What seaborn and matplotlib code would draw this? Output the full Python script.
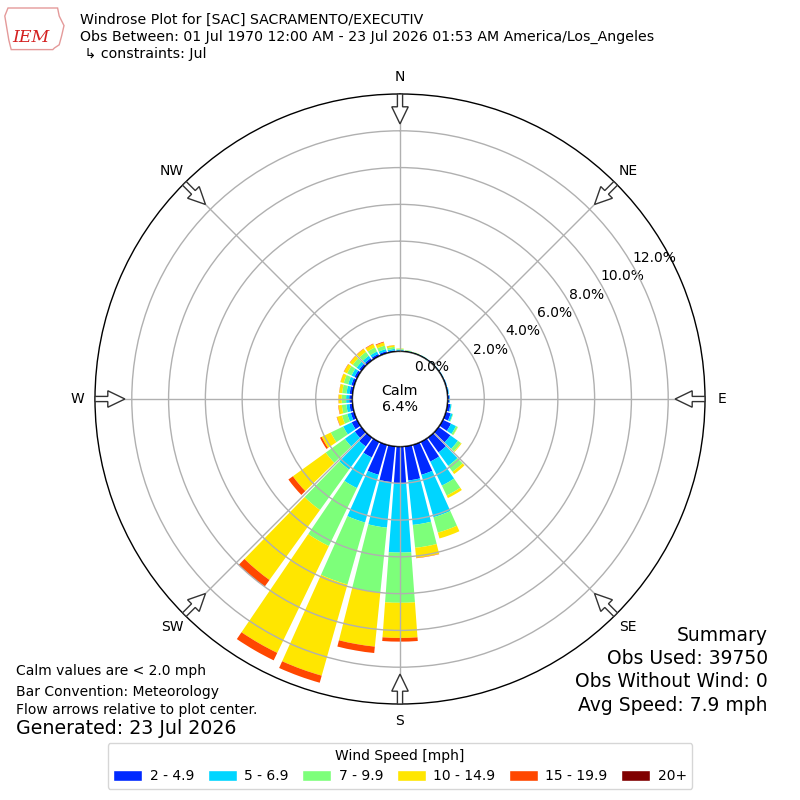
import numpy as np
import matplotlib
matplotlib.use("Agg")
import matplotlib.pyplot as plt
import seaborn as sns
from matplotlib.patches import Circle, FancyArrow, Patch, Polygon

# wind direction bins (deg, meteorological), 10 deg wide
directions = np.arange(0, 360, 10)
speed_labels = ["2 - 4.9", "5 - 6.9", "7 - 9.9", "10 - 14.9", "15 - 19.9", "20+"]
compass = ["N", "NE", "E", "SE", "S", "SW", "W", "NW"]
calm_pct = 6.4

# percent of all obs per direction bin, one list per speed class
spd_2_5 = [0.05, 0.04, 0.04, 0.04, 0.04, 0.04, 0.05, 0.06, 0.07, 0.11, 0.17, 0.28,
           0.50, 0.80, 1.00, 1.20, 1.70, 1.87, 2.02, 1.96, 1.70, 0.95, 0.60, 0.45,
           0.34, 0.20, 0.18, 0.18, 0.17, 0.17, 0.17, 0.16, 0.15, 0.14, 0.12, 0.08]
spd_5_7 = [0.05, 0.03, 0.02, 0.02, 0.02, 0.02, 0.02, 0.02, 0.03, 0.03, 0.06, 0.11,
           0.30, 0.50, 0.90, 1.45, 2.40, 2.43, 3.75, 2.49, 2.70, 1.85, 1.55, 0.67,
           0.51, 0.20, 0.17, 0.17, 0.17, 0.18, 0.18, 0.17, 0.17, 0.15, 0.12, 0.08]
spd_7_10 = [0.05, 0.02, 0.01, 0.01, 0.0, 0.0, 0.0, 0.0, 0.0, 0.0, 0.01, 0.03,
            0.10, 0.20, 0.40, 0.60, 0.87, 1.25, 2.73, 3.55, 3.50, 3.50, 2.71, 1.28,
            0.75, 0.30, 0.25, 0.24, 0.24, 0.25, 0.26, 0.26, 0.26, 0.25, 0.20, 0.11]
spd_10_15 = [0.02, 0.01, 0.01, 0.0, 0.0, 0.0, 0.0, 0.0, 0.0, 0.0, 0.0, 0.0,
             0.02, 0.05, 0.15, 0.15, 0.33, 0.55, 1.91, 2.95, 5.15, 6.45, 4.69, 2.20,
             0.55, 0.28, 0.18, 0.17, 0.16, 0.18, 0.19, 0.19, 0.20, 0.20, 0.18, 0.09]
spd_15_20 = [0.0, 0.0, 0.0, 0.0, 0.0, 0.0, 0.0, 0.0, 0.0, 0.0, 0.0, 0.0,
             0.0, 0.0, 0.0, 0.0, 0.0, 0.02, 0.20, 0.35, 0.40, 0.45, 0.45, 0.30,
             0.10, 0.02, 0.02, 0.01, 0.01, 0.01, 0.02, 0.02, 0.02, 0.03, 0.04, 0.01]
spd_20_up = [0.0] * 36

series = [spd_2_5, spd_5_7, spd_7_10, spd_10_15, spd_15_20, spd_20_up]

sns.set_style("white")
plt.rcParams["font.family"] = ["DejaVu Sans"]
plt.rcParams["text.color"] = "black"
plt.rcParams["xtick.color"] = "black"
plt.rcParams["ytick.color"] = "black"
colors = sns.color_palette(plt.cm.jet(np.linspace(0, 1, 7)[1:]))

fig = plt.figure(figsize=(8, 8), dpi=100)
ax = fig.add_axes([0.11875, 0.12, 0.7625, 0.7625], projection="polar")
ax.set_theta_zero_location("N")
ax.set_theta_direction(-1)

theta = np.deg2rad(directions)
bottom = np.zeros(len(directions))
for vals, col in zip(series, colors):
    vals = np.array(vals)
    ax.bar(theta, vals, width=np.deg2rad(8.4), bottom=bottom, color=col,
           linewidth=0, align="center", zorder=1)
    bottom += vals

ax.set_rorigin(-2.58)
ax.set_ylim(0, 14)
ax.set_axisbelow(False)
ax.set_thetagrids(np.arange(0, 360, 45), labels=compass, fontsize=10)
ax.tick_params(axis="x", pad=2)
rt = np.arange(2, 13, 2)
ax.set_rgrids(rt, labels=[f"{v:.1f}%" for v in rt], angle=60, fontsize=10)
ax.text(np.deg2rad(30), -1.0, "0.0%", fontsize=10, ha="left", va="bottom")
ax.grid(True, color="#b0b0b0", lw=1)
ax.spines["polar"].set_color("black")
ax.spines["polar"].set_linewidth(1)

# calm circle in the middle
ax.add_patch(Circle((0.5, 0.5), 0.0779, transform=ax.transAxes, facecolor="white",
                    edgecolor="black", lw=1.2, zorder=4))
ax.text(0.5, 0.5, f"Calm\n{calm_pct}%", transform=ax.transAxes, ha="center",
        va="center", fontsize=10.3, zorder=5)

# flow arrows at the rim
for a in np.deg2rad(np.arange(0, 360, 45)):
    x0 = 0.5 + 0.5 * np.sin(a)
    y0 = 0.5 + 0.5 * np.cos(a)
    ax.add_patch(FancyArrow(x0, y0, -0.049 * np.sin(a), -0.049 * np.cos(a),
                            width=0.0085, head_width=0.027, head_length=0.028,
                            length_includes_head=True, facecolor="white",
                            edgecolor="#333333", lw=1, transform=ax.transAxes,
                            clip_on=False, zorder=6))

# header with a rough IEM badge
iowa = [(0.010, 0.990), (0.072, 0.990), (0.074, 0.980), (0.080, 0.968), (0.077, 0.955),
        (0.074, 0.944), (0.068, 0.940), (0.066, 0.938), (0.014, 0.938), (0.011, 0.950),
        (0.008, 0.968), (0.006, 0.980)]
fig.patches.append(Polygon(iowa, closed=True, transform=fig.transFigure, fill=False,
                           edgecolor="#e49a9a", lw=1))
fig.text(0.039, 0.953, "IEM", color="#d42020", fontsize=12.5, style="italic",
         family="DejaVu Serif", ha="center", va="center")
fig.text(0.1, 0.975, "Windrose Plot for [SAC] SACRAMENTO/EXECUTIV", fontsize=10.2, va="center")
fig.text(0.1, 0.954, "Obs Between: 01 Jul 1970 12:00 AM - 23 Jul 2026 01:53 AM America/Los_Angeles",
         fontsize=10.2, va="center")
fig.text(0.1, 0.933, " \u21b3 constraints: Jul", fontsize=10.2, va="center")

# footer notes
fig.text(0.02, 0.161, "Calm values are < 2.0 mph", fontsize=10, va="center")
fig.text(0.02, 0.135, "Bar Convention: Meteorology", fontsize=10, va="center")
fig.text(0.02, 0.112, "Flow arrows relative to plot center.", fontsize=10, va="center")
fig.text(0.02, 0.089, "Generated: 23 Jul 2026", fontsize=13.7, va="center")

summary = ["Summary", "Obs Used: 39750", "Obs Without Wind: 0", "Avg Speed: 7.9 mph"]
for i, s in enumerate(summary):
    fig.text(0.96, 0.206 - i * 0.0292, s, fontsize=13.5, ha="right", va="center")

handles = [Patch(facecolor=c) for c in colors]
fig.legend(handles, speed_labels, loc="lower center", bbox_to_anchor=(0.5, 0.005),
           ncol=6, title="Wind Speed [mph]", fontsize=10, title_fontsize=10,
           handlelength=2.1, handleheight=0.9, handletextpad=0.55,
           columnspacing=0.95, frameon=True)

fig.savefig("out.png", dpi=100)
